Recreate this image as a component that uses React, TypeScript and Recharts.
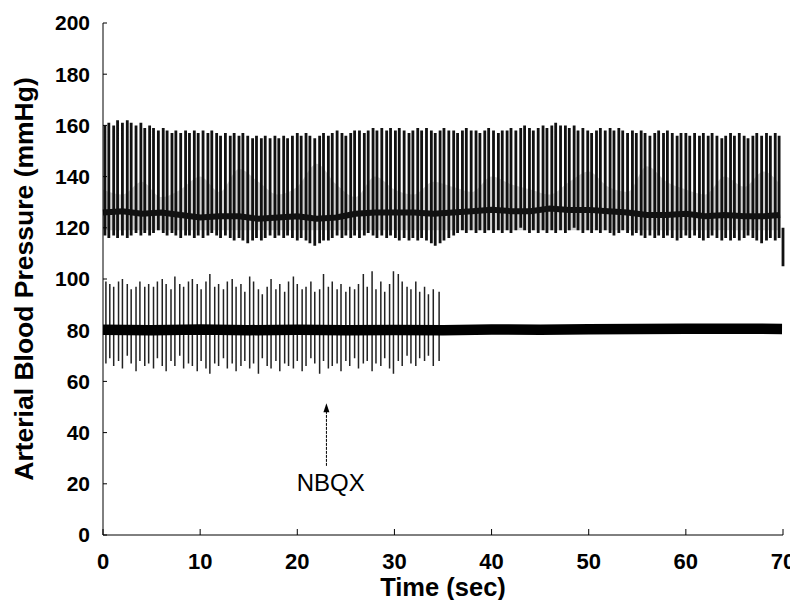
import { ComposedChart, Line, Area, XAxis, YAxis, ReferenceLine, ReferenceDot } from 'recharts'

const FONT = 'Arial, "Liberation Sans", sans-serif'

// upper trace: one pulse per beat, systolic peak and diastolic trough (mmHg)
const beatTimes = [
  0.2, 0.6, 1.1, 1.5, 2.0, 2.5, 2.9, 3.4, 3.9, 4.3,
  4.8, 5.2, 5.7, 6.2, 6.6, 7.1, 7.5, 8.0, 8.5, 8.9,
  9.4, 9.8, 10.3, 10.8, 11.2, 11.7, 12.1, 12.6, 13.1, 13.5,
  14.0, 14.4, 14.9, 15.4, 15.8, 16.3, 16.7, 17.2, 17.7, 18.1,
  18.6, 19.0, 19.5, 20.0, 20.4, 20.9, 21.3, 21.8, 22.3, 22.7,
  23.2, 23.6, 24.1, 24.6, 25.0, 25.5, 25.9, 26.4, 26.9, 27.3,
  27.8, 28.2, 28.7, 29.2, 29.6, 30.1, 30.5, 31.0, 31.5, 31.9,
  32.4, 32.8, 33.3, 33.8, 34.2, 34.7, 35.1, 35.6, 36.1, 36.5,
  37.0, 37.4, 37.9, 38.4, 38.8, 39.3, 39.7, 40.2, 40.7, 41.1,
  41.6, 42.0, 42.5, 43.0, 43.4, 43.9, 44.3, 44.8, 45.3, 45.7,
  46.2, 46.6, 47.1, 47.6, 48.0, 48.5, 48.9, 49.4, 49.9, 50.3,
  50.8, 51.2, 51.7, 52.2, 52.6, 53.1, 53.5, 54.0, 54.5, 54.9,
  55.4, 55.8, 56.3, 56.8, 57.2, 57.7, 58.1, 58.6, 59.1, 59.5,
  60.0, 60.4, 60.9, 61.4, 61.8, 62.3, 62.7, 63.2, 63.7, 64.1,
  64.6, 65.0, 65.5, 66.0, 66.4, 66.9, 67.3, 67.8, 68.3, 68.7,
  69.2, 69.6, 70.0,
]
const beatHigh = [
  160, 161, 160, 162, 161, 162, 161, 160, 161, 159,
  160, 159, 158, 159, 158, 157, 158, 157, 158, 157,
  158, 157, 158, 157, 158, 157, 156, 157, 156, 157,
  156, 157, 156, 155, 156, 155, 156, 155, 156, 155,
  156, 155, 156, 157, 156, 157, 156, 155, 156, 157,
  156, 157, 158, 157, 156, 157, 158, 158, 157, 158,
  159, 158, 159, 158, 159, 158, 159, 158, 157, 158,
  159, 158, 159, 158, 157, 158, 159, 158, 158, 157,
  158, 159, 158, 158, 157, 158, 159, 158, 157, 158,
  158, 159, 158, 159, 160, 159, 158, 159, 160, 159,
  160, 161, 160, 160, 159, 160, 158, 159, 158, 157,
  158, 159, 158, 159, 158, 159, 158, 157, 158, 157,
  158, 157, 156, 157, 158, 157, 158, 157, 156, 157,
  157, 156, 157, 156, 157, 156, 157, 156, 155, 156,
  157, 156, 157, 156, 155, 156, 157, 156, 157, 156,
  157, 156, 120,
]
const beatLow = [
  117, 116, 117, 116, 117, 116, 117, 118, 117, 118,
  117, 118, 119, 118, 117, 118, 117, 116, 117, 117,
  116, 117, 116, 117, 118, 117, 116, 117, 116, 115,
  116, 115, 114, 115, 116, 115, 116, 117, 116, 117,
  116, 117, 116, 115, 116, 115, 114, 113, 114, 115,
  115, 116, 117, 116, 117, 116, 117, 116, 117, 118,
  117, 116, 117, 116, 117, 116, 115, 116, 115, 116,
  115, 116, 115, 114, 113, 114, 115, 116, 117, 118,
  119, 118, 119, 118, 119, 118, 119, 118, 119, 118,
  119, 118, 119, 120, 119, 118, 119, 118, 119, 118,
  119, 118, 119, 118, 119, 120, 119, 118, 119, 118,
  119, 118, 119, 118, 117, 118, 119, 118, 117, 118,
  117, 116, 117, 116, 117, 116, 117, 116, 115, 116,
  117, 116, 117, 116, 115, 116, 117, 116, 115, 116,
  115, 116, 115, 116, 117, 116, 115, 114, 115, 116,
  115, 116, 105,
]

// dark band of the upper trace (mean level) and the grey upstroke haze above it
const meanTimes = [0, 2, 4, 6, 8, 10, 12, 14, 16, 18, 20, 22, 24, 26, 28, 30, 32, 34, 36, 38, 40, 42, 44, 46, 48, 50, 52, 54, 56, 58, 60, 62, 64, 66, 68, 69.7]
const meanValues = [126, 126.5, 125.5, 126, 125, 124, 124.5, 124.5, 123.5, 124, 124.5, 123.5, 124, 125.5, 126, 126, 126, 125.5, 126, 126.5, 127, 126.5, 126.5, 127.5, 127, 127, 126.5, 126, 125, 125, 125.5, 124.5, 125, 124.5, 124.5, 125]
const hazeTop = [135, 133, 138, 132, 135, 140, 134, 143, 138, 133, 136, 145, 137, 132, 140, 135, 133, 138, 136, 134, 140, 137, 135, 133, 138, 142, 136, 134, 144, 138, 135, 133, 140, 136, 142, 137]
const hazeBottom = 119

// lower trace: baseline band and the spikes that stop after NBQX
const baseTimes = [0, 5, 10, 15, 20, 25, 30, 35, 40, 45, 50, 55, 60, 65, 69.9]
const baseValues = [80.2, 80, 80.3, 80, 80.2, 80, 80.1, 80, 80.3, 80.2, 80.4, 80.5, 80.6, 80.6, 80.5]

const spikeTimes = [
  0.3, 0.7, 1.1, 1.6, 2.0, 2.5, 2.9, 3.4, 3.8, 4.3,
  4.7, 5.2, 5.6, 6.1, 6.5, 7.0, 7.4, 7.9, 8.3, 8.8,
  9.2, 9.7, 10.1, 10.6, 11.0, 11.5, 11.9, 12.4, 12.8, 13.3,
  13.7, 14.2, 14.6, 15.1, 15.5, 16.0, 16.4, 16.9, 17.3, 17.8,
  18.2, 18.7, 19.1, 19.6, 20.0, 20.5, 20.9, 21.4, 21.8, 22.3,
  22.7, 23.2, 23.6, 24.1, 24.5, 25.0, 25.4, 25.9, 26.3, 26.8,
  27.2, 27.7, 28.1, 28.6, 29.0, 29.5, 29.9, 30.4, 30.8, 31.3,
  31.7, 32.2, 32.6, 33.1, 33.5, 34.0, 34.6,
]
const spikeHigh = [
  99, 98, 97, 99, 100, 98, 96, 97, 99, 97,
  98, 97, 99, 100, 98, 96, 101, 98, 97, 99,
  100, 98, 96, 99, 102, 97, 98, 96, 99, 100,
  97, 98, 95, 101, 99, 96, 94, 97, 100, 96,
  98, 95, 99, 101, 98, 96, 97, 99, 95, 96,
  102, 97, 99, 96, 98, 95, 97, 96, 98, 102,
  97, 103, 96, 99, 95, 98, 103, 102, 99, 97,
  96, 99, 95, 97, 94, 96, 95,
]
const spikeLow = [
  67, 69, 66, 68, 65, 70, 67, 64, 68, 66,
  67, 65, 69, 66, 64, 68, 66, 70, 65, 67,
  66, 64, 68, 65, 63, 67, 66, 69, 65, 67,
  64, 66, 68, 65, 67, 63, 69, 66, 65, 68,
  64, 67, 66, 65, 68, 64, 66, 69, 67, 63,
  68, 65, 66, 67, 64, 68, 66, 69, 65, 67,
  68, 64, 67, 66, 69, 65, 63, 68, 66, 70,
  67, 66, 69, 68, 70, 66, 68,
]

const xTicks = [0, 10, 20, 30, 40, 50, 60, 70]
const yTicks = [0, 20, 40, 60, 80, 100, 120, 140, 160, 180, 200]

// NBQX marker
const arrowTime = 23.0
const arrowTail = 27
const arrowTip = 51.5
const labelPos = { t: 23.45, v: 20.7 }

// vertical strokes: high -> low at the same time, broken by a null
function strokes(times: number[], hi: number[], lo: number[]) {
  const out: { t: number; v: number | null }[] = []
  times.forEach((t, i) => {
    out.push({ t, v: hi[i] }, { t, v: lo[i] }, { t, v: null })
  })
  return out
}

const beatData = strokes(beatTimes, beatHigh, beatLow)
const spikeData = strokes(spikeTimes, spikeHigh, spikeLow)
const meanData = meanTimes.map((t, i) => ({ t, v: meanValues[i] }))
const hazeData = meanTimes.map((t, i) => ({ t, r: [hazeBottom, hazeTop[i]] }))
const baseData = baseTimes.map((t, i) => ({ t, v: baseValues[i] }))

const tickStyle = { fontSize: 22, fontWeight: 700, fill: '#000', fontFamily: FONT }

export default function App() {
  return (
    <div style={{ width: 790, height: 592 }}>
      <ComposedChart width={790} height={592} margin={{ top: 15, right: 15, left: 0, bottom: 0 }}>
        <XAxis
          dataKey="t"
          type="number"
          domain={[0, 70]}
          ticks={xTicks}
          height={65}
          tickSize={-6}
          tickMargin={24}
          stroke="#000"
          tick={tickStyle}
          label={{
            value: 'Time (sec)',
            position: 'insideBottom',
            offset: 4,
            style: { fontSize: 25.5, fontWeight: 700, fill: '#000', fontFamily: FONT },
          }}
        />
        <YAxis
          type="number"
          domain={[0, 200]}
          ticks={yTicks}
          width={95}
          tickSize={-4}
          tickMargin={17}
          stroke="#000"
          tick={{ ...tickStyle, fontSize: 21 }}
          label={{
            value: 'Arterial Blood Pressure (mmHg)',
            angle: -90,
            position: 'insideLeft',
            offset: 16,
            style: { textAnchor: 'middle', fontSize: 26.5, fontWeight: 700, fill: '#000', fontFamily: FONT },
          }}
        />
        <Area
          data={hazeData}
          dataKey="r"
          type="monotone"
          stroke="none"
          fill="#000"
          fillOpacity={0.18}
          isAnimationActive={false}
        />
        <Line
          data={beatData}
          dataKey="v"
          stroke="#111"
          strokeWidth={2.8}
          dot={false}
          activeDot={false}
          connectNulls={false}
          isAnimationActive={false}
        />
        <Line
          data={meanData}
          dataKey="v"
          stroke="#111"
          strokeWidth={6}
          dot={false}
          activeDot={false}
          isAnimationActive={false}
        />
        <Line
          data={spikeData}
          dataKey="v"
          stroke="#222"
          strokeWidth={1.5}
          dot={false}
          activeDot={false}
          connectNulls={false}
          isAnimationActive={false}
        />
        <Line
          data={baseData}
          dataKey="v"
          stroke="#000"
          strokeWidth={10.5}
          dot={false}
          activeDot={false}
          isAnimationActive={false}
        />
        <ReferenceLine
          segment={[
            { x: arrowTime, y: arrowTail },
            { x: arrowTime, y: arrowTip - 2 },
          ]}
          stroke="#000"
          strokeWidth={1}
          strokeDasharray="3 1"
        />
        <ReferenceDot
          x={arrowTime}
          y={arrowTip}
          r={4}
          shape={(p: any) => (
            <path d={`M${p.cx},${p.cy} L${p.cx - 3},${p.cy + 9} L${p.cx + 3},${p.cy + 9} Z`} fill="#000" />
          )}
        />
        <ReferenceDot
          x={labelPos.t}
          y={labelPos.v}
          r={1}
          shape={(p: any) => (
            <text
              x={p.cx}
              y={p.cy}
              textAnchor="middle"
              dominantBaseline="central"
              fontSize={24}
              fontFamily={FONT}
              fill="#000"
            >
              NBQX
            </text>
          )}
        />
      </ComposedChart>
    </div>
  )
}
